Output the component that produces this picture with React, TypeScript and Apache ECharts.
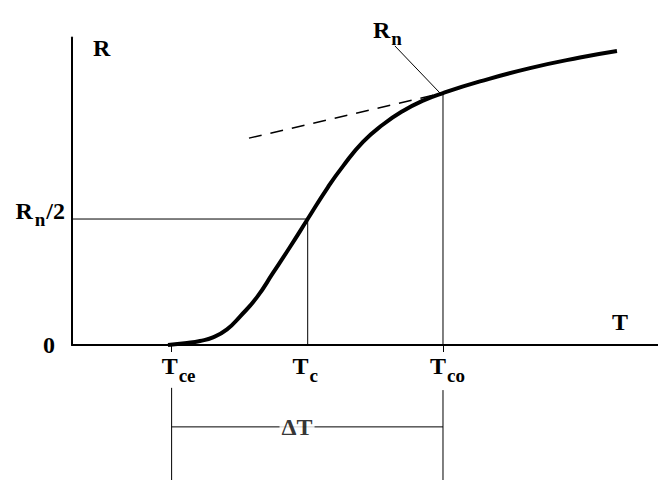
import React, { useEffect, useRef } from "react";
import * as echarts from "echarts";

// Resistance curve R(T), normalised so that Rn = 1
const curveT = [1.638, 1.962, 2.184, 2.406, 2.645, 2.867, 3.157, 3.43, 3.72, 4.022, 4.369, 4.625, 4.966, 5.307, 5.648, 5.99, 6.331, 6.962, 7.816, 8.669, 9.3];
const curveR = [0, 0.008, 0.016, 0.03, 0.062, 0.113, 0.19, 0.286, 0.389, 0.5, 0.627, 0.71, 0.806, 0.875, 0.929, 0.97, 1.0, 1.046, 1.099, 1.141, 1.167];

// Characteristic temperatures and resistances
const Tce = 1.7;
const Tc = 4.022;
const Tco = 6.331;
const Rn = 1.0;
const RnHalf = 0.5;

// Tangent (normal-state extrapolation) and Rn leader line
const tangentT = [3.02, Tco];
const tangentR = [0.821, Rn];
const leaderT = [5.51, 6.28];
const leaderR = [1.187, Rn];

// Width annotation below the axis
const dimLevel = -0.325;
const extTopCe = -0.17;
const extTopCo = -0.179;
const extBottom = -0.536;
const deltaLabelT = 3.84;

const xTickValues = [Tce, Tco];
const xLabelValues = [Tce, Tc, Tco];
const yLabelValues = [0, RnHalf];

const FONT = '"Liberation Serif", "Times New Roman", serif';

const main = { fontFamily: FONT, fontWeight: "bold" as const, fontSize: 24, color: "#000", lineHeight: 24 };
const sub = { fontFamily: FONT, fontWeight: "bold" as const, fontSize: 19, color: "#000", lineHeight: 19, padding: [18, 0, 0, 1] };

export default function App() {
  const ref = useRef<HTMLDivElement>(null);
  useEffect(() => {
    if (!ref.current) return;
    const chart = echarts.init(ref.current, undefined, { renderer: "svg" });
    const near = (a: number, b: number) => Math.abs(a - b) < 1e-6;
    const line = (xs: number[], ys: number[]) => xs.map((x, i) => [x, ys[i]]);
    chart.setOption({
      animation: false,
      backgroundColor: "#fff",
      grid: { left: 72, right: 0, top: 37.6, bottom: 135, containLabel: false },
      xAxis: {
        type: "value",
        min: 0,
        max: 10,
        axisLine: { show: true, onZero: false, lineStyle: { color: "#000", width: 2 } },
        splitLine: { show: false },
        axisTick: { show: true, customValues: xTickValues, length: 7, lineStyle: { color: "#000", width: 1 } },
        axisLabel: {
          show: true,
          customValues: xLabelValues,
          margin: 21,
          verticalAlign: "middle",
          formatter: (v: number) => {
            if (near(v, Tce)) return "{g14| }{m|T}{s|ce}";
            if (near(v, Tc)) return "{m|T}{s|c}{g5| }";
            if (near(v, Tco)) return "{g9| }{m|T}{s|co}";
            return "";
          },
          rich: { m: main, s: sub, g14: { width: 14 }, g5: { width: 5 }, g9: { width: 9 } },
        },
      },
      yAxis: {
        type: "value",
        min: 0,
        max: 1.22,
        axisLine: { show: true, onZero: false, lineStyle: { color: "#000", width: 2 } },
        splitLine: { show: false },
        axisTick: { show: false },
        axisLabel: {
          show: true,
          customValues: yLabelValues,
          margin: 7,
          formatter: (v: number) => {
            if (near(v, RnHalf)) return "{ym|R}{ys|n}{ym|/2}";
            return "{m|0}{g10| }";
          },
          rich: {
            m: main,
            ym: { ...main, padding: [0, 0, 17, 0] },
            ys: { ...sub, padding: [0, 1, 0, 2] },
            g10: { width: 10 },
          },
        },
      },
      series: [
        {
          type: "line",
          data: line(curveT, curveR),
          smooth: 0.5,
          symbol: "none",
          lineStyle: { color: "#000", width: 4 },
          z: 5,
        },
        {
          type: "line",
          data: line(tangentT, tangentR),
          symbol: "none",
          lineStyle: { color: "#000", width: 1.5, type: [13, 9] },
        },
        {
          type: "line",
          data: [[0, RnHalf], [Tc, RnHalf], [Tc, 0]],
          symbol: "none",
          lineStyle: { color: "#000", width: 1 },
        },
        {
          type: "line",
          data: [[Tco, Rn], [Tco, 0]],
          symbol: "none",
          lineStyle: { color: "#000", width: 1 },
        },
        {
          type: "line",
          data: line(leaderT, leaderR),
          symbol: "none",
          lineStyle: { color: "#000", width: 1 },
        },
        {
          type: "line",
          clip: false,
          data: [[Tce, extTopCe], [Tce, extBottom]],
          symbol: "none",
          lineStyle: { color: "#000", width: 1 },
        },
        {
          type: "line",
          clip: false,
          data: [[Tco, extTopCo], [Tco, extBottom]],
          symbol: "none",
          lineStyle: { color: "#000", width: 1 },
        },
        {
          type: "line",
          clip: false,
          data: [[Tce, dimLevel], [Tco, dimLevel]],
          symbol: "none",
          lineStyle: { color: "#000", width: 1 },
        },
        {
          type: "scatter",
          clip: false,
          data: [[deltaLabelT, dimLevel]],
          symbolSize: 0,
          z: 10,
          label: {
            show: true,
            position: "inside",
            formatter: "ΔT",
            fontFamily: FONT,
            fontWeight: "bold",
            fontSize: 24,
            color: "#000",
            backgroundColor: "#fff",
            padding: [0, 2],
          },
        },
      ],
      graphic: [
        {
          type: "text",
          x: 101.7,
          y: 48.4,
          style: { text: "R", font: `bold 24px ${FONT}`, fill: "#000", align: "center", verticalAlign: "middle" },
        },
        {
          type: "text",
          x: 620,
          y: 321.5,
          style: { text: "T", font: `bold 24px ${FONT}`, fill: "#000", align: "center", verticalAlign: "middle" },
        },
        {
          type: "text",
          x: 373,
          y: 29.7,
          style: {
            text: "{m|R}{s|n}",
            align: "left",
            verticalAlign: "middle",
            rich: { m: main, s: sub },
          },
        },
      ],
    });
    return () => chart.dispose();
  }, []);
  return <div ref={ref} style={{ position: "fixed", left: 0, top: 0, width: 658, height: 480 }} />;
}
